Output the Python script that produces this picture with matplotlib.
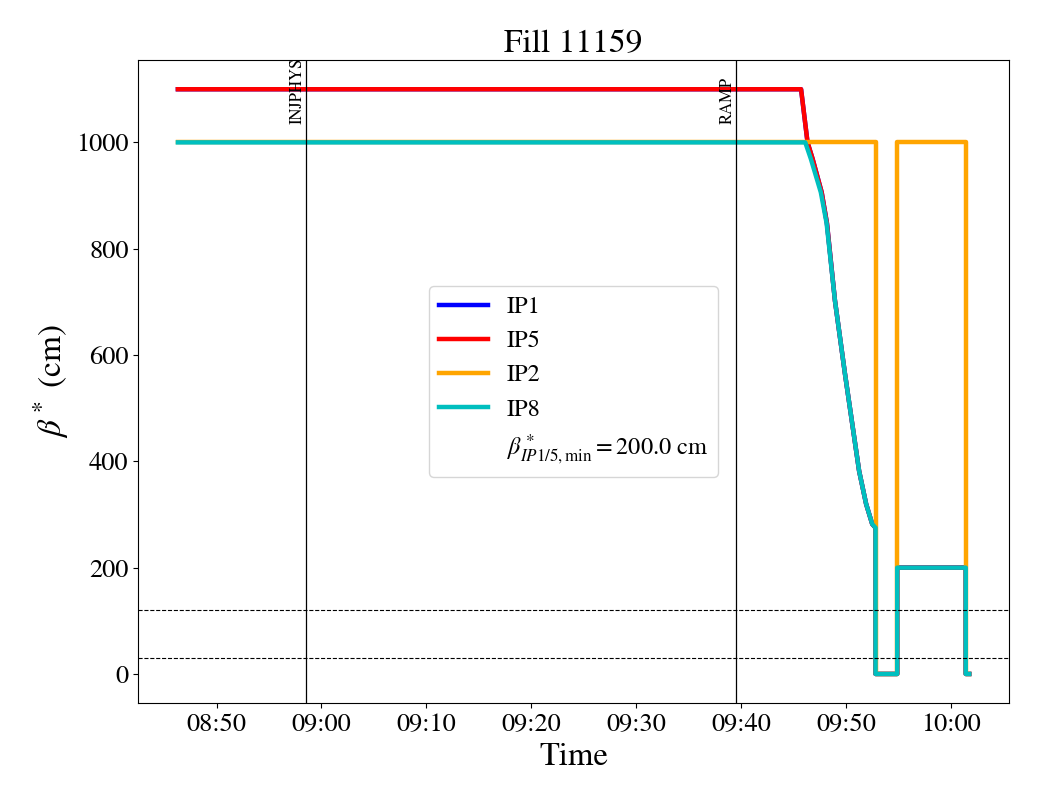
import numpy as np
import pandas as pd
import matplotlib
matplotlib.use('Agg')
from matplotlib import pyplot as plt
import matplotlib.dates as mdates

plt.rcParams['font.family'] = 'STIXGeneral'
plt.rcParams['mathtext.fontset'] = 'stix'

day = '2025-09-20 '

# IP1 / IP5 beta* (cm)
t_ip15 = ['08:46:19', '09:45:44', '09:46:21', '09:46:50', '09:47:42', '09:48:12',
          '09:48:58', '09:49:55', '09:51:16', '09:51:56', '09:52:31', '09:52:50',
          '09:52:50', '09:54:54', '09:54:54', '10:01:26', '10:01:26', '10:01:46']
b_ip15 = [1100, 1100, 1000, 969, 906, 848, 702, 565, 382, 320, 282, 275,
          0, 0, 200, 200, 0, 0]

# IP8
t_ip8 = ['08:46:19', '09:46:08', '09:46:40', '09:47:37', '09:48:10', '09:48:58',
         '09:49:55', '09:51:16', '09:51:56', '09:52:31', '09:52:50', '09:52:50',
         '09:54:54', '09:54:54', '10:01:26', '10:01:26', '10:01:46']
b_ip8 = [1000, 1000, 969, 906, 848, 702, 565, 382, 320, 282, 275,
         0, 0, 200, 200, 0, 0]

# IP2
t_ip2 = ['08:46:19', '09:52:50', '09:52:50', '09:54:54', '09:54:54', '10:01:26',
         '10:01:26', '10:01:46']
b_ip2 = [1000, 1000, 0, 0, 1000, 1000, 0, 0]

# beam modes
mode_names = ['INJPHYS', 'RAMP']
mode_times = ['08:58:30', '09:39:29']

hlines = [120, 30]
beta_min = 200.0

def tt(lst):
    return pd.to_datetime([day + s for s in lst])

fig, ax = plt.subplots(figsize=(10.4, 8), dpi=100)
fig.subplots_adjust(left=0.133, right=0.970, top=0.925, bottom=0.121)

ax.plot(tt(t_ip15), b_ip15, color='b', lw=3.2, label='IP1')
ax.plot(tt(t_ip15), b_ip15, color='r', lw=3.2, label='IP5')
ax.plot(tt(t_ip2), b_ip2, color='orange', lw=3.2, label='IP2')
ax.plot(tt(t_ip8), b_ip8, color='c', lw=3.2, label='IP8')
ax.plot([], [], color='none',
        label=r'$\beta^*_{IP1/5,\mathrm{min}}=$' + '%.1f cm' % beta_min)

for name, t in zip(mode_names, tt(mode_times)):
    ax.axvline(t, color='k', lw=0.9)
    ax.text(t, 0.9, name, rotation=90, ha='right', va='bottom', fontsize=12,
            transform=ax.get_xaxis_transform())

for h in hlines:
    ax.axhline(h, color='k', ls='--', lw=0.8)

ax.xaxis.set_major_locator(mdates.MinuteLocator(byminute=range(0, 60, 10)))
ax.xaxis.set_major_formatter(mdates.DateFormatter('%H:%M'))
ax.tick_params(labelsize=19)
ax.set_xlabel('Time', fontsize=23.5)
ax.set_ylabel(r'$\beta^*$ (cm)', fontsize=24)
ax.set_title('Fill 11159', fontsize=24)
ax.legend(loc='center', fontsize=17.5)

plt.savefig('out.png')
